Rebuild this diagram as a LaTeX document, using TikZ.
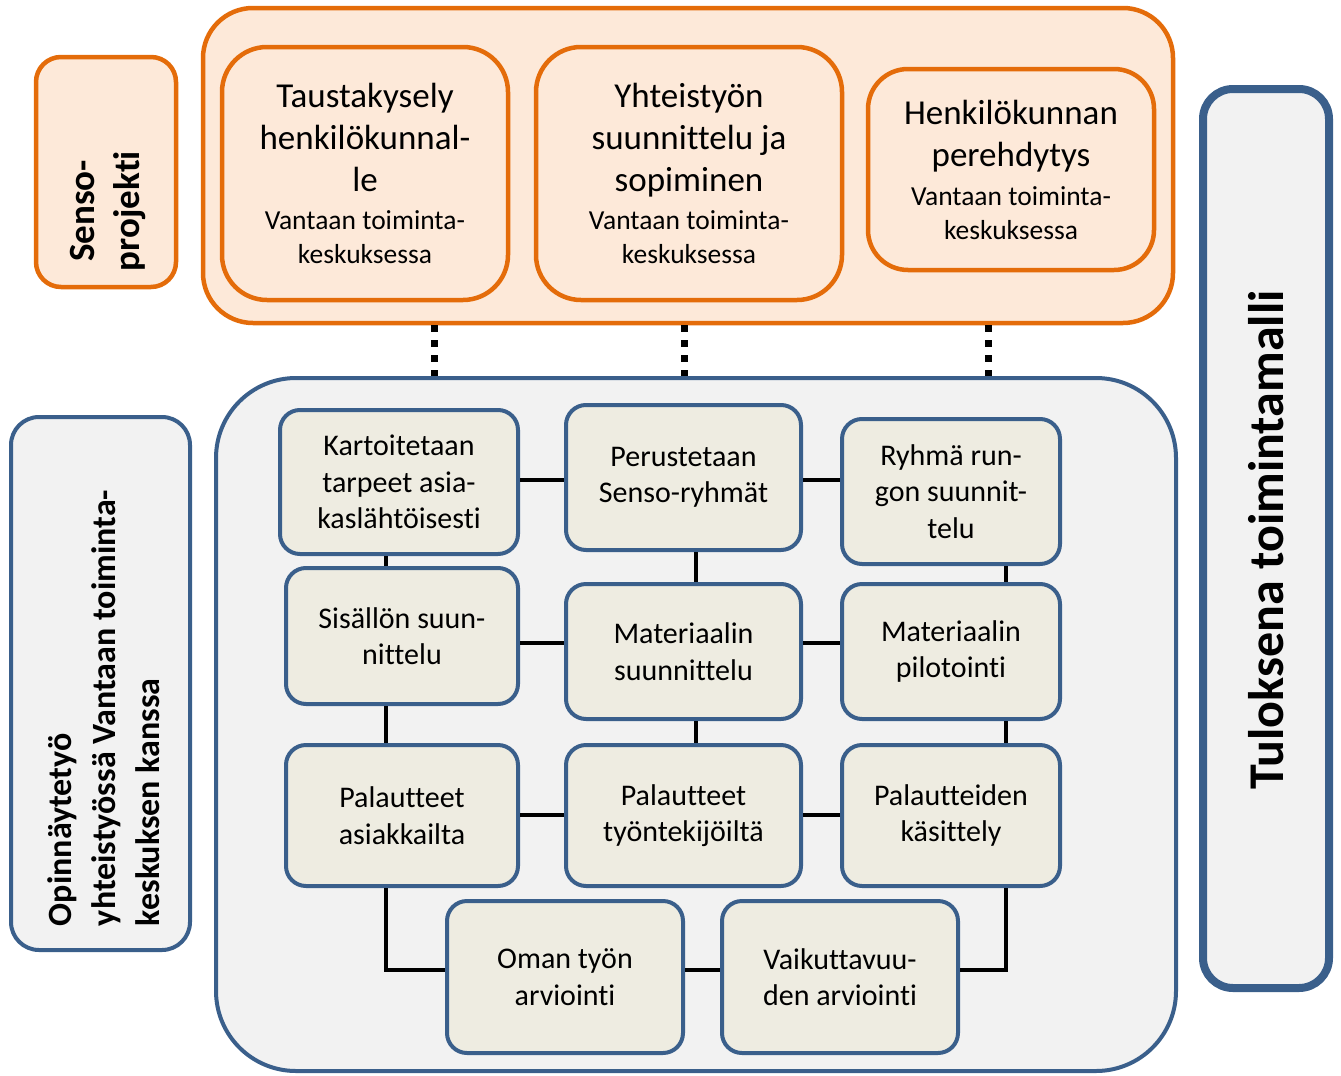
\documentclass[tikz,border=0pt]{standalone}
\usepackage{fontspec}
\setmainfont{Carlito}[Ligatures={NoCommon,NoContextual}]
\definecolor{orng}{HTML}{E46C0A}
\definecolor{ofill}{HTML}{FDE9D9}
\definecolor{blu}{HTML}{3A5F8B}
\definecolor{bfill}{HTML}{F2F2F2}
\definecolor{ifill}{HTML}{EEECE1}
\newcommand{\bigtxt}{\fontsize{35}{42}\selectfont}
\newcommand{\smtxt}[1]{{\fontsize{27.5}{34}\selectfont #1}}
\tikzset{
  obox/.style={draw=orng, fill=ofill, line width=4.5pt, rectangle, inner sep=0pt, align=center, font=\bigtxt},
  bbox/.style={draw=blu, fill=bfill, line width=4pt, rectangle, inner sep=0pt},
  ibox/.style={draw=blu, fill=ifill, line width=4pt, rectangle, rounded corners=20pt, inner sep=0pt,
    align=center, font=\fontsize{30}{36.5}\selectfont},
  link/.style={line width=4pt, black},
  dotline/.style={line width=7pt, black, dash pattern=on 7pt off 8pt},
  vtext/.style={rotate=90, inner sep=0pt},
}
\begin{document}
\begin{tikzpicture}[x=1pt,y=-1pt]
\useasboundingbox (0,0) rectangle (1341,1076);
% helper coordinates
\coordinate (dx1) at (434,0);
\coordinate (dx2) at (684,0);
\coordinate (dx3) at (988,0);
\coordinate (vx1) at (386,0);
\coordinate (vx2) at (696,0);
\coordinate (vx3) at (1006,0);
\coordinate (hy1) at (0,480);
\coordinate (hy2) at (0,643);
\coordinate (hy3) at (0,815);
\coordinate (hy4) at (0,970);

% outer containers
\node[obox, rounded corners=50pt, minimum width=970pt, minimum height=315pt] (BO) at (688,165.5) {};
\node[bbox, rounded corners=80pt, minimum width=960pt, minimum height=693pt] (BB) at (696,724.5) {};

% dotted links
\draw[dotline] (dx1 |- BO.south) -- (dx1 |- BB.north);
\draw[dotline] (dx2 |- BO.south) -- (dx2 |- BB.north);
\draw[dotline] (dx3 |- BO.south) -- (dx3 |- BB.north);

% side labels
\node[obox, rounded corners=25pt, minimum width=140pt, minimum height=230pt] (SB) at (106,172) {};
\node[vtext, align=center, font=\bfseries\fontsize{37}{45}\selectfont] (ST) at (108,211) {Senso-\\projekti};

\node[bbox, rounded corners=28pt, minimum width=179pt, minimum height=533pt] (OB) at (100.5,683.5) {};
\node[vtext, align=left, font=\bfseries\fontsize{34}{44}\selectfont] (OT) at (104,708) {Opinnäytetyö\\yhteistyössä Vantaan toiminta-\\keskuksen kanssa};

\node[bbox, line width=8pt, rounded corners=30pt, minimum width=126pt, minimum height=899pt] (TB) at (1266,538.5) {};
\node[vtext, font=\bfseries\fontsize{50}{60}\selectfont] (TT) at (1266,540) {Tuloksena toimintamalli};

% orange inner boxes
\node[obox, rounded corners=45pt, minimum width=286pt, minimum height=253pt, text depth=-6pt] (O1) at (365,173.5)
  {Taustakysely\\henkilökunnal-\\le\\[-4pt]\smtxt{Vantaan toiminta-}\\[-8pt]\smtxt{keskuksessa}};
\node[obox, rounded corners=45pt, minimum width=306pt, minimum height=253pt, text depth=-6pt] (O2) at (689,173.5)
  {Yhteistyön\\suunnittelu ja\\sopiminen\\[-4pt]\smtxt{Vantaan toiminta-}\\[-8pt]\smtxt{keskuksessa}};
\node[obox, rounded corners=40pt, minimum width=286pt, minimum height=201pt, text depth=-4pt] (O3) at (1011,169.5)
  {Henkilökunnan\\perehdytys\\[-3pt]\smtxt{Vantaan toiminta-}\\[-8pt]\smtxt{keskuksessa}};

% blue inner boxes
\node[ibox, minimum width=238pt, minimum height=144pt] (A) at (399,482) {Kartoitetaan\\tarpeet asia-\\kaslähtöisesti};
\node[ibox, minimum width=235pt, minimum height=145pt] (B) at (683.5,477.5) {Perustetaan\\Senso-ryhmät};
\node[ibox, minimum width=218pt, minimum height=145pt] (C) at (951,491.5) {Ryhmä run-\\gon suunnit-\\telu};
\node[ibox, minimum width=232pt, minimum height=136pt] (D) at (402,636) {Sisällön suun-\\nittelu};
\node[ibox, minimum width=235pt, minimum height=135pt] (E) at (683.5,651.5) {Materiaalin\\suunnittelu};
\node[ibox, minimum width=218pt, minimum height=135pt] (F) at (951,651.5) {Materiaalin\\pilotointi};
\node[ibox, minimum width=232pt, minimum height=141pt] (G) at (402,815.5) {Palautteet\\asiakkailta};
\node[ibox, minimum width=235pt, minimum height=141pt] (H) at (683.5,815.5) {Palautteet\\työntekijöiltä};
\node[ibox, minimum width=218pt, minimum height=141pt] (I) at (951,815.5) {Palautteiden\\käsittely};
\node[ibox, minimum width=236pt, minimum height=152pt] (J) at (565,977) {Oman työn\\arviointi};
\node[ibox, minimum width=236pt, minimum height=152pt] (K) at (840,977) {Vaikuttavuu-\\den arviointi};

% connectors
\draw[link] (hy1 -| A.east) -- (hy1 -| B.west);
\draw[link] (hy1 -| B.east) -- (hy1 -| C.west);
\draw[link] (vx1 |- A.south) -- (vx1 |- D.north);
\draw[link] (vx2 |- B.south) -- (vx2 |- E.north);
\draw[link] (vx3 |- C.south) -- (vx3 |- F.north);
\draw[link] (hy2 -| D.east) -- (hy2 -| E.west);
\draw[link] (hy2 -| E.east) -- (hy2 -| F.west);
\draw[link] (vx1 |- D.south) -- (vx1 |- G.north);
\draw[link] (vx2 |- E.south) -- (vx2 |- H.north);
\draw[link] (vx3 |- F.south) -- (vx3 |- I.north);
\draw[link] (hy3 -| G.east) -- (hy3 -| H.west);
\draw[link] (hy3 -| H.east) -- (hy3 -| I.west);
\draw[link] (vx1 |- G.south) |- (hy4 -| J.west);
\draw[link] (hy4 -| J.east) -- (hy4 -| K.west);
\draw[link] (vx3 |- I.south) |- (hy4 -| K.east);
\end{tikzpicture}
\end{document}
